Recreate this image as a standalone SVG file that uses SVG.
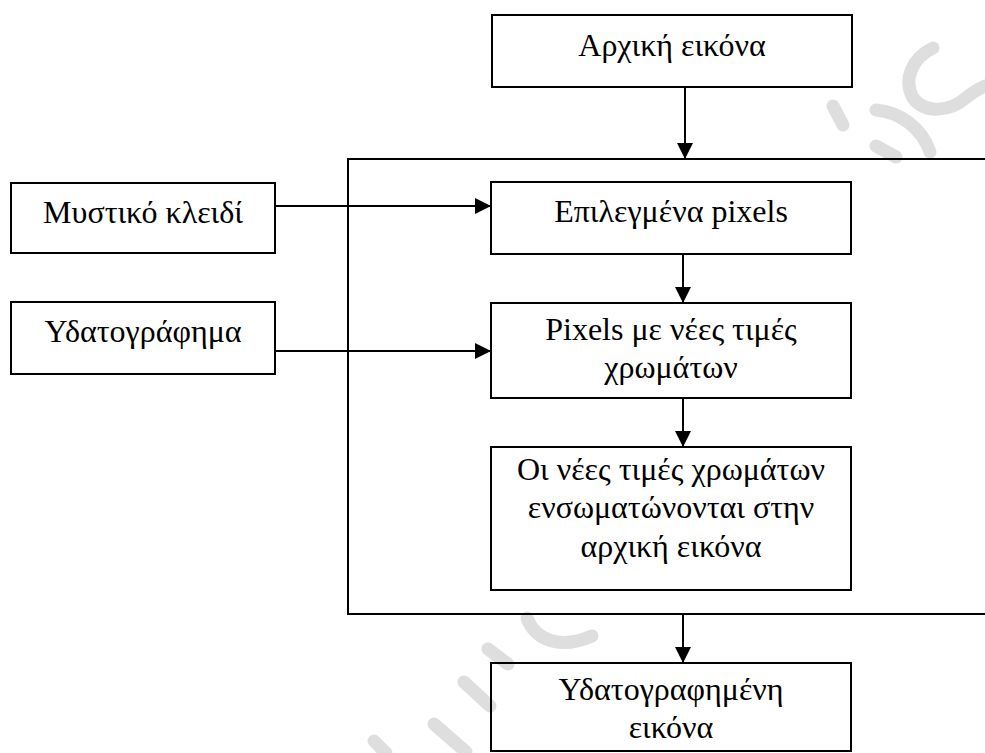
<svg xmlns="http://www.w3.org/2000/svg" width="985" height="753" viewBox="0 0 985 753">
  <defs>
    <style>
      .box { fill: none; stroke: #000; stroke-width: 2; }
      .wire { fill: none; stroke: #000; stroke-width: 2; }
      .lbl { font-family: "Liberation Serif", "Times New Roman", serif; font-size: 32px; fill: #000; text-anchor: middle; }
      .mark { fill: none; stroke: #dedede; stroke-width: 13; stroke-linecap: round; }
    </style>
    <marker id="head" viewBox="0 0 16 16" refX="16" refY="8" markerWidth="16" markerHeight="16" markerUnits="userSpaceOnUse" orient="auto">
      <path d="M0,0 L16,8 L0,16 Z" fill="#000"/>
    </marker>
  </defs>

  <rect width="985" height="753" fill="#fff"/>

  <!-- faint background stamp -->
  <g id="watermark">
    <path class="mark" d="M833,106 L843,125"/>
    <path class="mark" d="M876,110 C900,112 922,128 930,152"/>
    <path class="mark" d="M876,146 L896,157"/>
    <path class="mark" d="M933,48 C912,58 903,80 913,98 C925,114 950,112 967,97 C975,91 980,88 985,86"/>
    <path class="mark" d="M527,618 C535,640 560,650 592,636"/>
    <path class="mark" d="M488,649 L508,664"/>
    <path class="mark" d="M464,682 L490,706"/>
    <path class="mark" d="M434,724 L466,752"/>
    <path class="mark" d="M374,741 L386,753"/>
  </g>

  <!-- processing frame, open on the right -->
  <g id="frame">
    <path class="wire" d="M985,159 H348 V614 H985"/>
  </g>

  <g id="original">
    <rect class="box" x="492" y="15" width="360" height="72"/>
    <text class="lbl" x="672" y="56">Αρχική εικόνα</text>
  </g>

  <g id="key">
    <rect class="box" x="11" y="183" width="264" height="70"/>
    <text class="lbl" x="143" y="223">Μυστικό κλειδί</text>
  </g>

  <g id="watermark-data">
    <rect class="box" x="11" y="302" width="264" height="72"/>
    <text class="lbl" x="143" y="342">Υδατογράφημα</text>
  </g>

  <g id="selected">
    <rect class="box" x="491" y="182" width="360" height="72"/>
    <text class="lbl" x="671" y="222">Επιλεγμένα pixels</text>
  </g>

  <g id="recolored">
    <rect class="box" x="491" y="303" width="360" height="95"/>
    <text class="lbl" x="671" y="340">Pixels με νέες τιμές</text>
    <text class="lbl" x="671" y="378">χρωμάτων</text>
  </g>

  <g id="embedded">
    <rect class="box" x="491" y="447" width="360" height="143"/>
    <text class="lbl" x="671" y="480">Οι νέες τιμές χρωμάτων</text>
    <text class="lbl" x="671" y="518">ενσωματώνονται στην</text>
    <text class="lbl" x="671" y="557">αρχική εικόνα</text>
  </g>

  <g id="result">
    <rect class="box" x="491" y="663" width="360" height="88"/>
    <text class="lbl" x="671" y="700">Υδατογραφημένη</text>
    <text class="lbl" x="671" y="738">εικόνα</text>
  </g>

  <g id="connectors">
    <line class="wire" x1="685" y1="87" x2="685" y2="159" marker-end="url(#head)"/>
    <line class="wire" x1="275" y1="206" x2="491" y2="206" marker-end="url(#head)"/>
    <line class="wire" x1="275" y1="351" x2="491" y2="351" marker-end="url(#head)"/>
    <line class="wire" x1="683" y1="254" x2="683" y2="303" marker-end="url(#head)"/>
    <line class="wire" x1="683" y1="398" x2="683" y2="447" marker-end="url(#head)"/>
    <line class="wire" x1="683" y1="614" x2="683" y2="663" marker-end="url(#head)"/>
  </g>
</svg>
